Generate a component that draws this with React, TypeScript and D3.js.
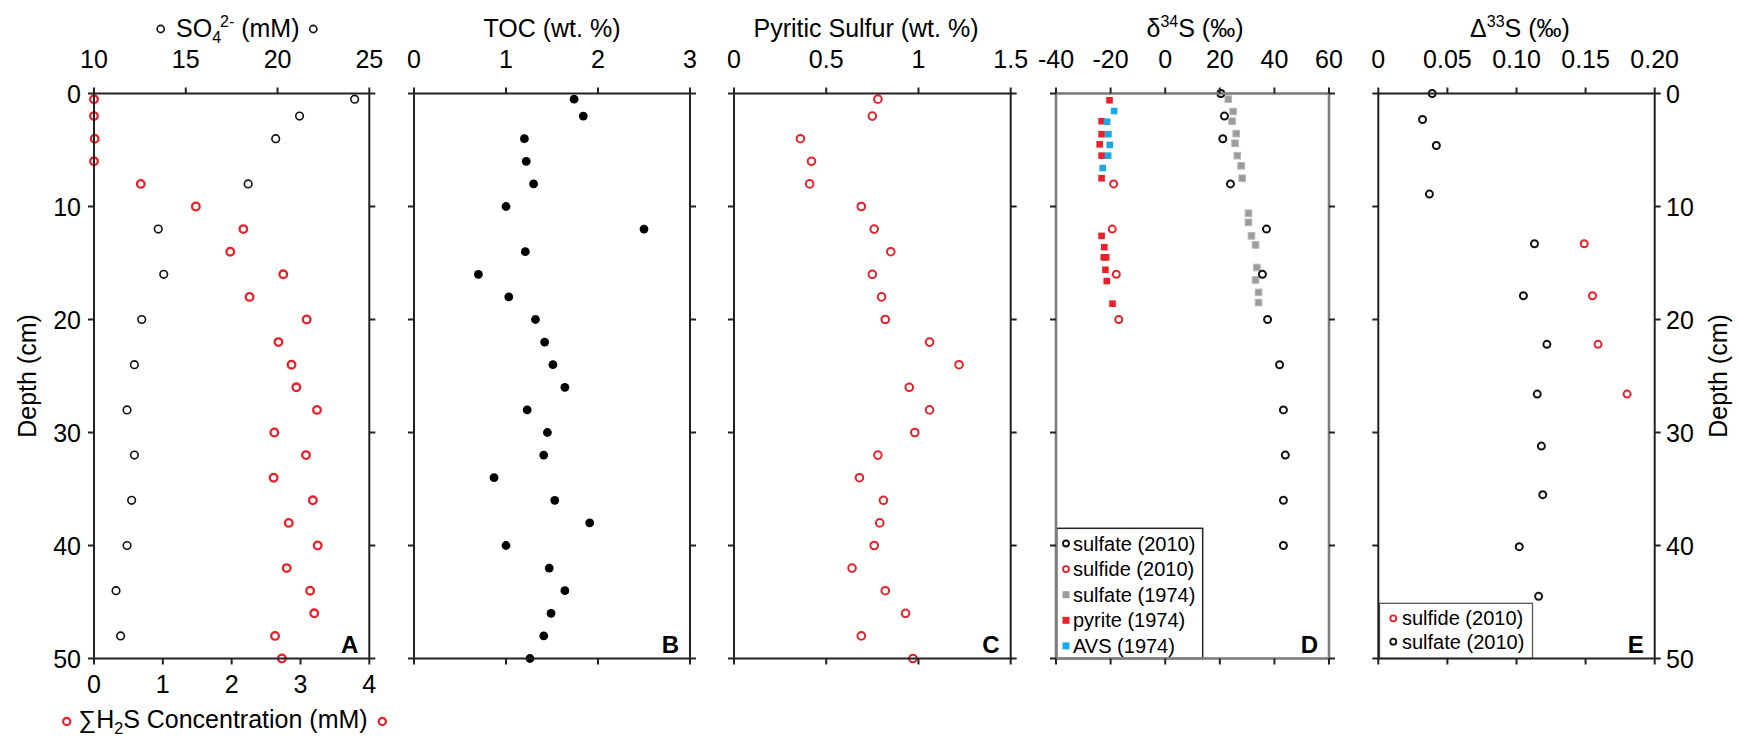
import React from "react";
import * as d3 from "d3";

// depth profiles (cm)
const depthTicks = [0, 10, 20, 30, 40, 50];

const so4Depth = [0.5, 2, 4, 8, 12, 16, 20, 24, 28, 32, 36, 40, 44, 48];
const so4Conc = [24.2, 21.2, 19.9, 18.4, 13.5, 13.8, 12.6, 12.2, 11.8, 12.2, 12.05, 11.8, 11.2, 11.45];

const h2sDepth = [0.5, 2, 4, 6, 8, 10, 12, 14, 16, 18, 20, 22, 24, 26, 28, 30, 32, 34, 36, 38, 40, 42, 44, 46, 48, 50];
const h2sConc = [0, 0, 0.01, 0, 0.68, 1.48, 2.17, 1.98, 2.75, 2.26, 3.09, 2.68, 2.87, 2.94, 3.24, 2.62, 3.08, 2.61, 3.18, 2.83, 3.25, 2.8, 3.14, 3.2, 2.63, 2.73];

const tocDepth = [0.5, 2, 4, 6, 8, 10, 12, 14, 16, 18, 20, 22, 24, 26, 28, 30, 32, 34, 36, 38, 40, 42, 44, 46, 48, 50];
const tocValues = [1.74, 1.84, 1.2, 1.22, 1.3, 1.0, 2.5, 1.21, 0.7, 1.03, 1.32, 1.42, 1.51, 1.64, 1.23, 1.45, 1.41, 0.87, 1.53, 1.91, 1.0, 1.47, 1.64, 1.49, 1.41, 1.26];

const pyrDepth = [0.5, 2, 4, 6, 8, 10, 12, 14, 16, 18, 20, 22, 24, 26, 28, 30, 32, 34, 36, 38, 40, 42, 44, 46, 48, 50];
const pyrValues = [0.78, 0.75, 0.36, 0.42, 0.41, 0.69, 0.76, 0.85, 0.75, 0.8, 0.82, 1.06, 1.22, 0.95, 1.06, 0.98, 0.78, 0.68, 0.81, 0.79, 0.76, 0.64, 0.82, 0.93, 0.69, 0.97];

// d34S
const d34SulfateDepth = [0, 2, 4, 8, 12, 16, 20, 24, 28, 32, 36, 40];
const d34Sulfate = [20.4, 21.7, 21.1, 23.9, 37.1, 35.6, 37.5, 41.9, 43.3, 44, 43.3, 43.3];
const d34SulfideDepth = [8, 12, 16, 20];
const d34Sulfide = [-18.9, -19.4, -17.9, -17.0];
const d34Sulfate74Depth = [0, 0.5, 1.6, 2.45, 3.55, 4.4, 5.5, 6.4, 7.5, 10.6, 11.4, 12.6, 13.4, 15.4, 16.5, 17.6, 18.5];
const d34Sulfate74 = [20.3, 23.1, 24.9, 24.5, 26, 25.6, 26.4, 27.8, 28.2, 30.5, 30.5, 31.6, 33.1, 33.6, 33.1, 34.2, 34.2];
const d34PyriteDepth = [0.6, 2.45, 3.6, 4.5, 5.5, 7.5, 12.6, 13.6, 14.5, 14.5, 15.6, 16.6, 18.6];
const d34Pyrite = [-20.4, -23.3, -23.3, -24, -23.3, -23.3, -23.3, -22.3, -22.5, -21.6, -21.9, -21.4, -19.3];
const d34AvsDepth = [1.55, 2.5, 3.6, 4.55, 5.5, 6.6];
const d34Avs = [-18.7, -21.3, -20.8, -20.3, -20.9, -22.9];

// D33S
const D33SulfateDepth = [0, 2.3, 4.6, 8.9, 13.3, 17.9, 22.2, 26.6, 31.2, 35.5, 40.1, 44.5];
const D33Sulfate = [0.039, 0.032, 0.042, 0.037, 0.113, 0.105, 0.122, 0.115, 0.118, 0.119, 0.102, 0.116];
const D33SulfideDepth = [13.3, 17.9, 22.2, 26.6];
const D33Sulfide = [0.149, 0.155, 0.159, 0.18];

const RED = "#e8202a";
const BLUE = "#1aa9e8";
const GRAY = "#9b9b9b";
const FONT = "'Liberation Sans', Arial, Helvetica, sans-serif";

const TOP = 93.5;
const BOTTOM = 658.5;
const y = d3.scaleLinear().domain([0, 50]).range([TOP, BOTTOM]);

const zip = (d: number[], v: number[]) => d.map((dd, i) => ({ d: dd, v: v[i] }));

type PanelProps = {
  x: d3.ScaleLinear<number, number>;
  ticks: number[];
  fmt: (v: number) => string;
  frame?: string;
  letter: string;
  bottomScale?: d3.ScaleLinear<number, number>;
  bottomTicks?: number[];
  children?: React.ReactNode;
};

const Panel = ({ x, ticks, fmt, frame = "#222", letter, bottomScale, bottomTicks, children }: PanelProps) => {
  const [x0, x1] = x.range();
  const bs = bottomScale || x;
  const bt = bottomTicks || ticks;
  return (
    <g>
      {children}
      <rect x={x0} y={TOP} width={x1 - x0} height={BOTTOM - TOP} fill="none" stroke={frame} strokeWidth={frame === "#222" ? 2 : 2.6} />
      {ticks.map((t) => (
        <g key={"t" + t}>
          <line x1={x(t)} x2={x(t)} y1={TOP} y2={TOP - 6} stroke="#222" strokeWidth={2} />
          <text x={x(t)} y={68} textAnchor="middle" fontSize={25}>{fmt(t)}</text>
        </g>
      ))}
      {bt.map((t) => (
        <line key={"b" + t} x1={bs(t)} x2={bs(t)} y1={BOTTOM} y2={BOTTOM + 6} stroke="#222" strokeWidth={2} />
      ))}
      {depthTicks.map((t) => (
        <g key={"d" + t}>
          <line x1={x0} x2={x0 - 6} y1={y(t)} y2={y(t)} stroke="#222" strokeWidth={2} />
          <line x1={x1} x2={x1 + 6} y1={y(t)} y2={y(t)} stroke="#222" strokeWidth={2} />
        </g>
      ))}
      <text x={x1 - 11} y={BOTTOM - 6} textAnchor="end" fontSize={24} fontWeight="bold">{letter}</text>
    </g>
  );
};

const Circles = ({ data, x, color, r = 3.8, sw = 2 }: any) => (
  <g>
    {data.map((p: any, i: number) => (
      <circle key={i} cx={x(p.v)} cy={y(p.d)} r={r} fill="white" stroke={color} strokeWidth={sw} />
    ))}
  </g>
);

const Squares = ({ data, x, color, stroke, s = 6.6 }: any) => (
  <g>
    {data.map((p: any, i: number) => (
      <rect key={i} x={x(p.v) - s / 2} y={y(p.d) - s / 2} width={s} height={s} fill={color} stroke={stroke || "none"} strokeWidth={1} />
    ))}
  </g>
);

export default function App() {
  const xSO4 = d3.scaleLinear().domain([10, 25]).range([94, 369.3]);
  const xH2S = d3.scaleLinear().domain([0, 4]).range([94, 369.3]);
  const xTOC = d3.scaleLinear().domain([0, 3]).range([414, 690]);
  const xPyr = d3.scaleLinear().domain([0, 1.5]).range([734, 1010.7]);
  const xD34 = d3.scaleLinear().domain([-40, 60]).range([1056, 1329]);
  const xD33 = d3.scaleLinear().domain([0, 0.2]).range([1378.3, 1654.7]);

  const legendD = [
    { label: "sulfate (2010)", kind: "circle", color: "#111" },
    { label: "sulfide (2010)", kind: "circle", color: RED },
    { label: "sulfate (1974)", kind: "square", color: GRAY },
    { label: "pyrite (1974)", kind: "square", color: RED },
    { label: "AVS (1974)", kind: "square", color: BLUE },
  ];
  const legendE = [
    { label: "sulfide (2010)", color: RED },
    { label: "sulfate (2010)", color: "#111" },
  ];

  return (
    <svg width={1738} height={739} style={{ position: "absolute", left: 0, top: 0, background: "white" }} fontFamily={FONT}>
      <rect width={1738} height={739} fill="white" />

      {/* A */}
      <Panel x={xSO4} ticks={[10, 15, 20, 25]} fmt={(v) => String(v)} letter="A" bottomScale={xH2S} bottomTicks={[0, 1, 2, 3, 4]}>
        <Circles data={zip(so4Depth, so4Conc)} x={xSO4} color="#111" sw={1.6} />
        <Circles data={zip(h2sDepth, h2sConc)} x={xH2S} color={RED} sw={2.3} />
      </Panel>
      {depthTicks.map((t) => (
        <text key={"yl" + t} x={81} y={y(t) + 9} textAnchor="end" fontSize={25}>{t}</text>
      ))}
      {[0, 1, 2, 3, 4].map((t) => (
        <text key={"h" + t} x={xH2S(t)} y={693} textAnchor="middle" fontSize={25}>{t}</text>
      ))}
      <text x={176} y={37} fontSize={25}>
        SO<tspan fontSize={16} dy={6}>4</tspan>
        <tspan fontSize={16} dy={-16} dx={-1}>2-</tspan>
        <tspan dy={10}> (mM)</tspan>
      </text>
      <circle cx={160.7} cy={29} r={3.6} fill="white" stroke="#111" strokeWidth={1.6} />
      <circle cx={313.3} cy={29} r={3.6} fill="white" stroke="#111" strokeWidth={1.6} />
      <text x={223} y={728} textAnchor="middle" fontSize={25}>
        ∑H<tspan fontSize={16} dy={6}>2</tspan>
        <tspan dy={-6}>S Concentration (mM)</tspan>
      </text>
      <circle cx={66.7} cy={721.5} r={3.6} fill="white" stroke={RED} strokeWidth={2.2} />
      <circle cx={382.3} cy={721.5} r={3.6} fill="white" stroke={RED} strokeWidth={2.2} />
      <text transform={`translate(36,${y(25)}) rotate(-90)`} textAnchor="middle" fontSize={25}>Depth (cm)</text>

      {/* B */}
      <Panel x={xTOC} ticks={[0, 1, 2, 3]} fmt={(v) => String(v)} letter="B">
        {zip(tocDepth, tocValues).map((p, i) => (
          <circle key={i} cx={xTOC(p.v)} cy={y(p.d)} r={4.4} fill="#000" />
        ))}
      </Panel>
      <text x={552} y={37} textAnchor="middle" fontSize={25}>TOC (wt. %)</text>

      {/* C */}
      <Panel x={xPyr} ticks={[0, 0.5, 1, 1.5]} fmt={(v) => String(v)} letter="C">
        <Circles data={zip(pyrDepth, pyrValues)} x={xPyr} color={RED} sw={2} />
      </Panel>
      <text x={866} y={37} textAnchor="middle" fontSize={25}>Pyritic Sulfur (wt. %)</text>

      {/* D */}
      <Panel x={xD34} ticks={[-40, -20, 0, 20, 40, 60]} fmt={(v) => String(v)} frame="#7d7d7d" letter="D">
        <Squares data={zip(d34Sulfate74Depth, d34Sulfate74)} x={xD34} color={GRAY} stroke="#b5b5b5" />
        <Squares data={zip(d34PyriteDepth, d34Pyrite)} x={xD34} color={RED} />
        <Squares data={zip(d34AvsDepth, d34Avs)} x={xD34} color={BLUE} />
        <Circles data={zip(d34SulfateDepth, d34Sulfate)} x={xD34} color="#111" r={3.5} sw={2} />
        <Circles data={zip(d34SulfideDepth, d34Sulfide)} x={xD34} color={RED} r={3.5} sw={2} />
        <rect x={1056.7} y={528.3} width={146} height={BOTTOM - 528.3} fill="white" stroke="#222" strokeWidth={1.5} />
        {legendD.map((l, i) => {
          const ly = 543.5 + i * 25.6;
          return (
            <g key={l.label}>
              {l.kind === "circle" ? (
                <circle cx={1066} cy={ly} r={3} fill="white" stroke={l.color} strokeWidth={1.8} />
              ) : (
                <rect x={1062.5} y={ly - 3.5} width={7} height={7} fill={l.color} />
              )}
              <text x={1073} y={ly + 7} fontSize={20}>{l.label}</text>
            </g>
          );
        })}
      </Panel>
      <text x={1195} y={37} textAnchor="middle" fontSize={25}>
        δ<tspan fontSize={16} dy={-10}>34</tspan>
        <tspan dy={10}>S (‰)</tspan>
      </text>

      {/* E */}
      <Panel x={xD33} ticks={[0, 0.05, 0.1, 0.15, 0.2]} fmt={(v) => (v === 0 ? "0" : d3.format(".2f")(v))} letter="E">
        <Circles data={zip(D33SulfateDepth, D33Sulfate)} x={xD33} color="#111" r={3.5} sw={2} />
        <Circles data={zip(D33SulfideDepth, D33Sulfide)} x={xD33} color={RED} r={3.5} sw={2} />
        <rect x={1379.5} y={603.3} width={153} height={BOTTOM - 603.3} fill="white" stroke="#555" strokeWidth={1.3} />
        {legendE.map((l, i) => {
          const ly = 618.3 + i * 23.4;
          return (
            <g key={l.label}>
              <circle cx={1393.3} cy={ly} r={3} fill="white" stroke={l.color} strokeWidth={1.8} />
              <text x={1402} y={ly + 7} fontSize={20}>{l.label}</text>
            </g>
          );
        })}
      </Panel>
      {depthTicks.map((t) => (
        <text key={"yr" + t} x={1666} y={y(t) + 9} fontSize={25}>{t}</text>
      ))}
      <text x={1520} y={37} textAnchor="middle" fontSize={25}>
        Δ<tspan fontSize={16} dy={-10}>33</tspan>
        <tspan dy={10}>S (‰)</tspan>
      </text>
      <text transform={`translate(1727,${y(25)}) rotate(-90)`} textAnchor="middle" fontSize={25}>Depth (cm)</text>
    </svg>
  );
}
